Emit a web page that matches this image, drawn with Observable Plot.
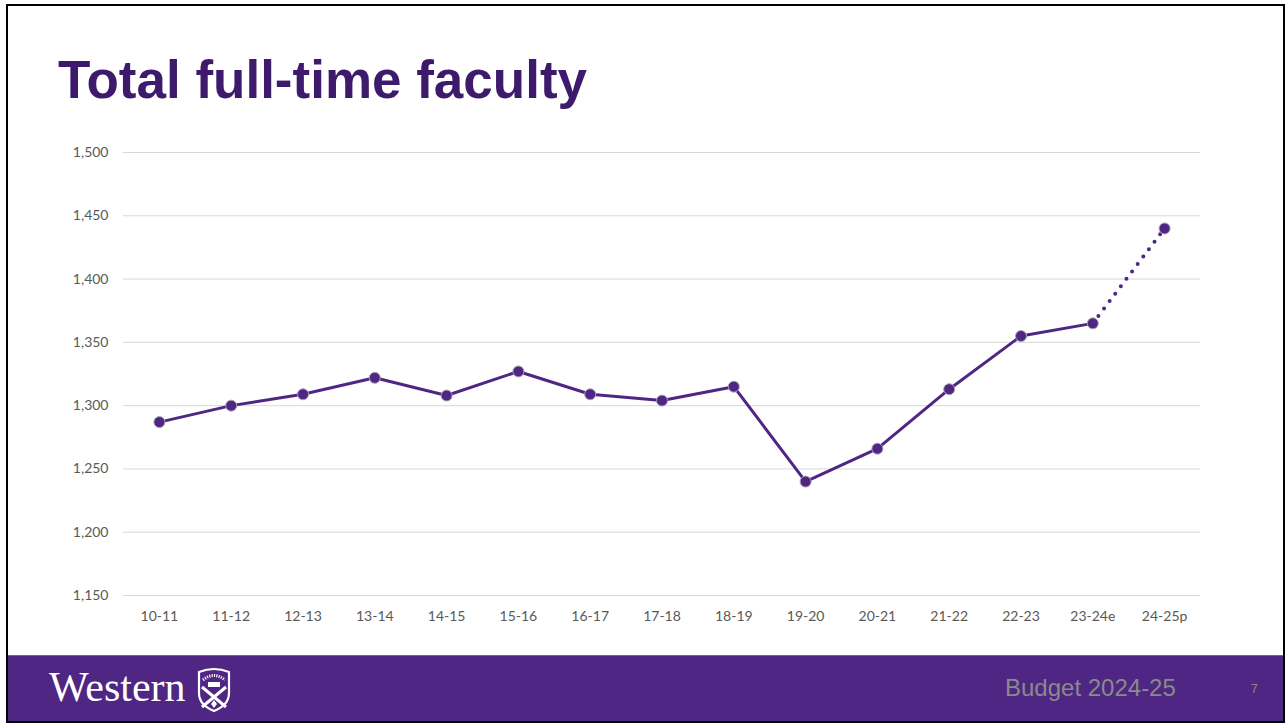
<!DOCTYPE html>
<html>
<head>
<meta charset="utf-8">
<script src="https://cdn.jsdelivr.net/npm/d3@7"></script>
<script src="https://cdn.jsdelivr.net/npm/@observablehq/plot@0.6"></script>
<style>
  html, body { margin:0; padding:0; background:#fff; width:1285px; height:723px; overflow:hidden; position:relative; }
  #frame { position:absolute; left:6px; top:4px; width:1279px; height:719px; box-sizing:border-box; border:2px solid #000; }
  #title { position:absolute; left:58px; top:48px; font-family:"Liberation Sans", Arial, sans-serif; font-weight:bold; font-size:53px; line-height:64px; color:#3d1a6b; white-space:nowrap; }
  #chart { position:absolute; left:0; top:140px; }
  #footer { position:absolute; left:8px; top:655px; width:1275px; height:66px; background:#4f2683; border-top:1px solid #7a5ca3; box-sizing:border-box; }
  #western { position:absolute; left:41px; top:7px; font-family:"Liberation Serif", "DejaVu Serif", serif; font-size:42px; line-height:48px; color:#fff; }
  #shield { position:absolute; left:188px; top:11px; }
  #budget { position:absolute; left:997px; top:18px; font-family:"Liberation Sans", Arial, sans-serif; font-size:24px; line-height:28px; color:#8a8a8a; }
  #page { position:absolute; left:1243px; top:26px; font-family:"Liberation Sans", Arial, sans-serif; font-size:12px; line-height:14px; color:#8a8a8a; }
</style>
</head>
<body>
<div id="frame"></div>
<div id="title">Total full-time faculty</div>
<div id="chart"></div>
<div id="footer">
  <div id="western">Western</div>
  <svg id="shield" width="36" height="46" viewBox="0 0 36 46">
    <path d="M3 5 Q18 -1 33 5 L33 26 Q33 38 18 44 Q3 38 3 26 Z" fill="none" stroke="#fff" stroke-width="2.2"/>
    <path d="M7 13 Q18 4 29 13" fill="none" stroke="#fff" stroke-width="3" stroke-dasharray="1.2,1.2"/>
    <rect x="12" y="15" width="12" height="5" fill="#fff"/>
    <path d="M6 20 L30 40 M30 20 L6 40" stroke="#fff" stroke-width="3"/>
    <path d="M18 33 L15 37 L18 41 L21 37 Z" fill="#fff"/>
  </svg>
  <div id="budget">Budget 2024-25</div>
  <div id="page">7</div>
</div>
<script>
const years = ["10-11","11-12","12-13","13-14","14-15","15-16","16-17","17-18","18-19","19-20","20-21","21-22","22-23","23-24e","24-25p"];
const faculty = [1287,1300,1309,1322,1308,1327,1309,1304,1315,1240,1266,1313,1355,1365,1440];
const yTicks = [1150,1200,1250,1300,1350,1400,1450,1500];
const projectedFrom = "23-24e";

const data = years.map((year, i) => ({year, value: faculty[i]}));
const cut = years.indexOf(projectedFrom);
const actual = data.slice(0, cut + 1);
const projected = data.slice(cut);

const purple = "#4f2683";

const chart = Plot.plot({
  width: 1285,
  height: 500,
  marginLeft: 123,
  marginRight: 85,
  marginTop: 12,
  marginBottom: 45,
  x: {type: "point", domain: years, padding: 0.5, round: false, label: null},
  y: {domain: [1150, 1500], label: null},
  style: {fontFamily: "Lato, 'Open Sans', sans-serif", fontSize: "14px", color: "#595959", background: "transparent"},
  marks: [
    Plot.ruleY(yTicks, {stroke: "#d9d9d9", strokeWidth: 1}),
    Plot.axisY({ticks: yTicks, tickSize: 0, tickPadding: 15, tickFormat: d3.format(","), label: null}),
    Plot.axisX({tickSize: 0, tickPadding: 16, label: null}),
    Plot.line(actual, {x: "year", y: "value", stroke: purple, strokeWidth: 3}),
    Plot.line(projected, {x: "year", y: "value", stroke: purple, strokeWidth: 4, strokeDasharray: "0,9.3", strokeLinecap: "round"}),
    Plot.dot(data, {x: "year", y: "value", r: 5.5, fill: purple, stroke: "#a8a4b0", strokeWidth: 1})
  ]
});
document.getElementById("chart").appendChild(chart);
</script>
</body>
</html>
